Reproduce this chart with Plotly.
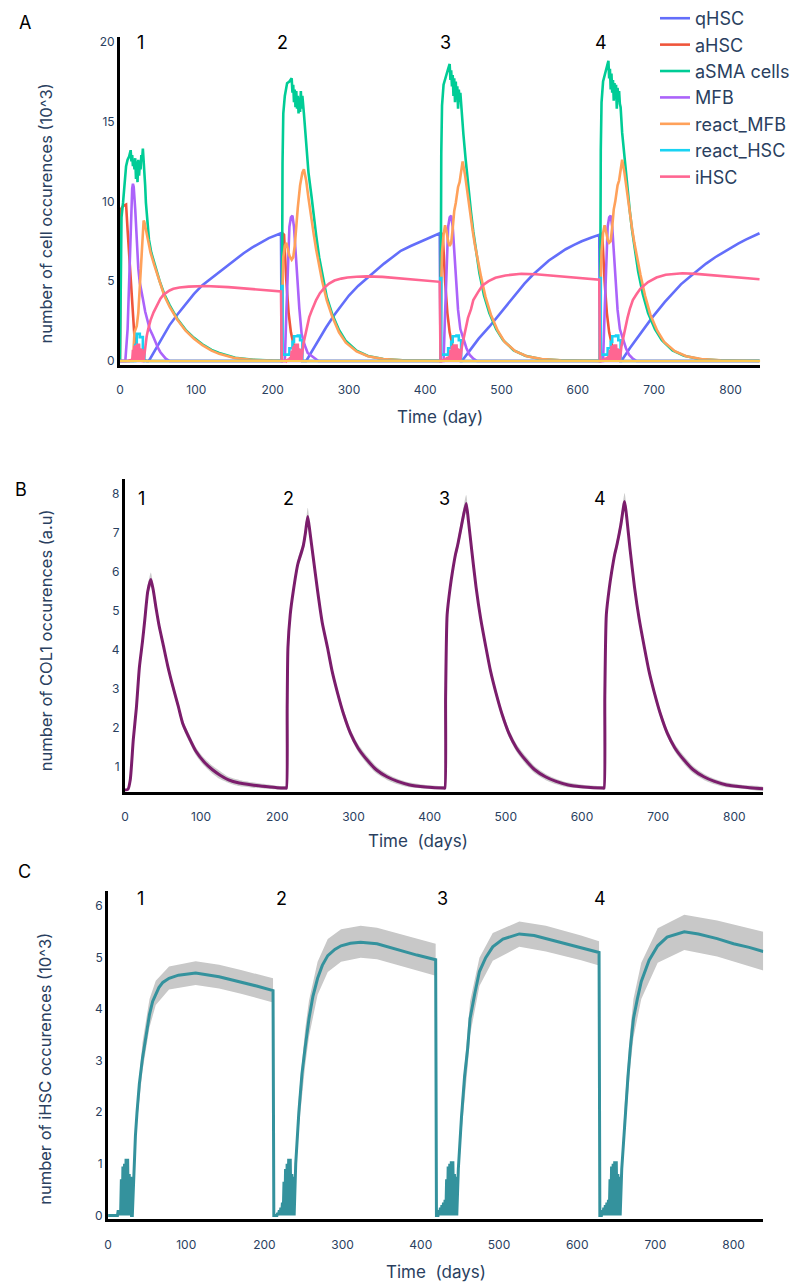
import plotly.graph_objects as go

W, H = 795, 1288

# ---------------- Panel A: cell populations (10^3) ----------------
qhsc_t = [0, 37, 39, 45, 52, 65, 75, 86, 97, 108, 120, 130, 140, 151, 162, 173, 184, 195, 211,
          212, 244, 252, 260, 270, 281, 290, 300, 312, 324, 335, 346, 357, 368, 381, 395, 407, 419,
          420, 448, 459, 470, 484, 497, 508, 520, 530, 541, 552, 562, 573, 584, 595, 605, 617, 628,
          629, 657, 668, 680, 697, 714, 725, 735, 746, 757, 768, 780, 790, 800, 810, 820, 829, 838]
qhsc_y = [0, 0, 0.1, 0.6, 1.2, 2.25, 2.9, 3.55, 4.2, 4.75, 5.2, 5.55, 5.95, 6.35, 6.75, 7.1, 7.42, 7.7, 8.0,
          0, 0, 0.65, 1.3, 2.1, 2.9, 3.5, 4.1, 4.7, 5.2, 5.65, 6.1, 6.5, 6.9, 7.2, 7.5, 7.75, 8.0,
          0, 0, 0.7, 1.4, 2.15, 2.9, 3.6, 4.3, 4.85, 5.4, 5.85, 6.3, 6.65, 7.0, 7.27, 7.5, 7.72, 7.9,
          0, 0, 0.8, 1.6, 2.7, 3.7, 4.25, 4.8, 5.25, 5.7, 6.1, 6.5, 6.8, 7.1, 7.35, 7.6, 7.8, 8.0]

ahsc_t = [0, 1, 4, 8, 10, 13, 15, 17, 19, 21, 25, 30, 35, 211,
          212, 213, 215, 218, 221, 224, 228, 233, 238, 419,
          420, 421, 423, 426, 429, 432, 436, 441, 446, 628,
          629, 630, 632, 635, 638, 641, 645, 650, 655, 838]
ahsc_y = [0, 9.5, 9.7, 9.8, 8.2, 6.0, 4.0, 2.4, 1.5, 1.0, 0.4, 0.1, 0, 0,
          0, 8.0, 7.9, 5.0, 3.0, 1.8, 0.9, 0.4, 0, 0,
          0, 8.0, 7.9, 5.0, 3.0, 1.8, 0.9, 0.4, 0, 0,
          0, 8.0, 7.9, 5.0, 3.0, 1.8, 0.9, 0.4, 0, 0]

asma_t = [0, 2, 4, 6, 8, 10, 12, 14, 15, 16, 17, 18, 19, 20, 21, 22, 23, 24, 25, 26, 27, 28, 29, 30, 31, 32, 33, 34,
          36, 38, 41, 45, 52, 58, 65, 75, 86, 97, 108, 120, 130, 151, 175, 200, 211,
          212, 213, 214, 216, 219, 222, 225, 226, 227, 228, 229, 230, 231, 232, 233, 234, 235, 236, 237, 238, 239,
          241, 244, 247, 251, 254, 257, 261, 265, 271, 278, 287, 296, 310, 325, 345, 370, 402, 419,
          420, 421, 422, 424, 427, 430, 432, 433, 434, 435, 436, 437, 438, 439, 440, 441, 442, 443, 444, 445, 446, 447,
          448, 450, 453, 456, 460, 463, 467, 471, 477, 484, 493, 502, 516, 531, 551, 576, 608, 628,
          629, 630, 631, 633, 636, 638, 640, 641, 642, 643, 644, 645, 646, 647, 648, 649, 650, 651, 652, 653, 654, 655,
          656, 658, 661, 664, 668, 671, 675, 679, 685, 692, 701, 710, 724, 739, 759, 784, 816, 838]
asma_y = [0, 9.0, 9.9, 11.3, 12.2, 12.6, 12.8, 13.2, 12.5, 12.9, 12.2, 12.6, 12.0, 12.7, 11.4, 12.5, 11.2, 12.6, 11.6, 12.3, 12.0, 12.9, 12.6, 13.3, 12.7, 12.0, 11.0, 9.9,
          8.6, 7.6, 6.8, 6.1, 5.0, 4.2, 3.5, 2.65, 1.95, 1.45, 1.05, 0.7, 0.5, 0.2, 0.08, 0.03, 0.02,
          0.02, 12.4, 15.5, 16.6, 17.4, 17.5, 17.7, 16.8, 17.3, 16.2, 17.0, 15.9, 16.9, 15.8, 16.6, 15.5, 16.5, 15.6, 16.9, 15.8, 16.6,
          15.5, 13.5, 11.8, 10.3, 9.0, 7.9, 6.5, 5.4, 4.0, 2.95, 1.95, 1.25, 0.65, 0.32, 0.13, 0.05, 0.02, 0.02,
          0.02, 13.0, 16.0, 17.3, 17.9, 18.3, 18.6, 17.6, 18.2, 17.2, 17.9, 16.6, 17.7, 16.2, 17.5, 16.4, 17.2, 15.8, 17.0, 16.3, 16.8, 16.0,
          15.8, 14.2, 12.6, 11.1, 9.3, 8.1, 6.7, 5.5, 4.1, 3.0, 2.0, 1.3, 0.67, 0.33, 0.13, 0.05, 0.02, 0.02,
          0.02, 13.2, 16.2, 17.5, 18.1, 18.4, 18.8, 17.7, 18.3, 17.0, 18.0, 16.8, 17.6, 16.3, 17.4, 16.5, 17.3, 15.8, 17.1, 16.4, 16.9, 16.1,
          15.9, 14.3, 12.7, 11.2, 9.4, 8.2, 6.8, 5.6, 4.2, 3.0, 2.0, 1.3, 0.67, 0.33, 0.13, 0.05, 0.02, 0.02]

mfb_t = [0, 7, 10, 12, 14, 16, 17, 18, 20, 22, 24, 26, 28, 30, 33, 36, 39, 43, 47, 50, 53, 56, 60, 65, 211,
         212, 216, 218, 220, 222, 224, 226, 228, 229, 231, 233, 235, 238, 242, 246, 251, 256, 260, 419,
         420, 424, 426, 428, 430, 432, 434, 436, 437, 439, 441, 443, 446, 450, 454, 458, 463, 468, 628,
         629, 633, 635, 637, 639, 641, 643, 645, 646, 648, 650, 652, 655, 659, 663, 667, 672, 677, 838]
mfb_y = [0, 0, 2.0, 5.5, 9.0, 10.8, 11.1, 10.9, 9.5, 7.5, 5.8, 4.9, 4.3, 3.9, 3.1, 2.5, 2.0, 1.6, 1.1, 0.8, 0.55, 0.35, 0.15, 0, 0,
         0, 0, 3.0, 6.5, 8.4, 9.0, 9.1, 8.4, 7.6, 6.2, 4.4, 3.3, 1.7, 1.0, 0.5, 0.3, 0.1, 0, 0,
         0, 0, 3.0, 6.5, 8.4, 9.0, 9.1, 8.4, 7.6, 6.0, 4.4, 3.2, 2.0, 1.4, 0.8, 0.4, 0.15, 0, 0,
         0, 0, 3.0, 6.5, 8.4, 9.0, 9.1, 8.4, 7.6, 6.0, 4.4, 3.2, 2.0, 1.4, 0.8, 0.4, 0.15, 0, 0]

rmfb_t = [0, 17, 19, 22, 24, 26, 28, 30, 31, 32, 34, 37, 40, 45, 52, 58, 65, 75, 86, 97, 108, 120, 130, 151, 175, 211,
          212, 213, 214, 216, 218, 220, 222, 225, 227, 229, 231, 233, 236, 239, 241, 244, 247, 250, 254, 257, 261, 265,
          271, 278, 287, 296, 310, 325, 345, 370, 419,
          420, 421, 422, 424, 426, 428, 430, 432, 434, 436, 438, 440, 443, 445, 447, 449, 452, 455, 458, 462, 465, 469,
          473, 479, 486, 495, 504, 518, 533, 553, 578, 628,
          629, 630, 631, 633, 635, 637, 639, 641, 643, 645, 647, 649, 652, 654, 656, 658, 661, 664, 667, 671, 674, 678,
          682, 688, 695, 704, 713, 727, 742, 762, 787, 838]
rmfb_y = [0, 0, 1.8, 2.2, 3.0, 4.8, 6.8, 8.3, 8.8, 8.7, 8.2, 7.5, 6.8, 6.0, 4.9, 4.1, 3.4, 2.6, 1.9, 1.4, 1.0, 0.65, 0.45, 0.18, 0.07, 0.02,
          0.02, 4.5, 6.5, 7.2, 7.4, 7.0, 6.6, 6.35, 6.5, 7.2, 8.5, 9.6, 11.0, 11.8, 12.0, 11.3, 10.2, 9.1, 7.9, 7.0, 5.9, 5.0,
          3.8, 2.8, 1.8, 1.15, 0.6, 0.3, 0.12, 0.05, 0.01,
          0.01, 5.0, 6.8, 7.9, 8.5, 8.1, 7.5, 7.2, 7.4, 8.3, 9.4, 9.9, 10.9, 11.2, 12.0, 12.5, 11.7, 10.6, 9.5, 8.2, 7.3, 6.2,
          5.3, 4.0, 2.9, 1.9, 1.2, 0.62, 0.3, 0.12, 0.05, 0.01,
          0.01, 5.0, 6.9, 8.0, 8.5, 8.1, 7.6, 7.4, 7.5, 8.4, 9.5, 10.0, 11.0, 11.3, 12.1, 12.6, 11.8, 10.7, 9.6, 8.3, 7.4, 6.3,
          5.4, 4.1, 2.9, 1.9, 1.2, 0.62, 0.3, 0.12, 0.05, 0.01]

rhsc_t = [0, 18, 20, 22, 26, 30, 32,
          212, 213, 222, 226, 228, 233, 236, 239,
          420, 421, 430, 434, 436, 441, 444, 447,
          629, 630, 639, 643, 645, 650, 653, 656, 838]
rhsc_y = [0, 0, 1.0, 1.7, 1.5, 0.6, 0,
          4.7, 0.4, 0.8, 1.2, 1.55, 1.6, 1.3, 0,
          5.2, 0.4, 0.8, 1.2, 1.55, 1.6, 1.3, 0,
          5.2, 0.4, 0.8, 1.2, 1.55, 1.6, 1.3, 0, 0]

# iHSC mean (10^3) -- shown in panel A (pink) and panel C (teal)
ihsc_t = [0, 12, 13, 14, 15, 16, 17, 18, 19, 20, 21, 22, 23, 24, 25, 26, 27, 28, 29, 30, 31,
          33, 35, 37, 40, 44, 48, 53, 57, 61, 65, 70, 78, 90, 112, 142, 170, 190, 211,
          212, 216, 217, 218, 219, 220, 221, 222, 223, 224, 225, 226, 227, 228, 229, 230, 231, 232, 233, 234, 235, 236, 237, 238,
          240, 244, 248, 252, 257, 262, 268, 274, 281, 290, 298, 310, 323, 344, 360, 374, 395, 419,
          420, 422, 423, 424, 425, 426, 427, 428, 429, 430, 431, 432, 433, 434, 435, 436, 437, 438, 439, 440, 441, 442, 443, 444, 445, 446,
          448, 452, 456, 460, 463, 469, 475, 483, 492, 505, 526, 545, 560, 580, 605, 628,
          629, 631, 632, 633, 634, 635, 636, 637, 638, 639, 640, 641, 642, 643, 644, 645, 646, 647, 648, 649, 650, 651, 652, 653, 654, 655,
          657, 661, 665, 668, 672, 677, 682, 692, 703, 715, 737, 755, 779, 800, 820, 838]
ihsc_y = [0, 0, 0.1, 0, 0.1, 0, 0.7, 0, 0.95, 0, 1.0, 0, 1.1, 0, 1.1, 0, 0.8, 0, 0.75, 0, 0,
          1.0, 1.55, 2.0, 2.55, 3.05, 3.45, 3.9, 4.15, 4.3, 4.42, 4.52, 4.6, 4.66, 4.7, 4.63, 4.53, 4.45, 4.36,
          0, 0, 0.05, 0, 0.1, 0, 0.15, 0, 0.25, 0, 0.65, 0, 0.9, 0, 1.0, 0, 1.1, 0, 1.1, 0, 0.8, 0, 0.75, 0,
          1.0, 2.0, 2.75, 3.25, 3.82, 4.25, 4.6, 4.85, 5.04, 5.16, 5.23, 5.28, 5.3, 5.27, 5.2, 5.14, 5.05, 4.96,
          0, 0, 0.1, 0, 0.15, 0, 0.2, 0, 0.25, 0, 0.3, 0, 0.7, 0, 0.95, 0, 1.0, 0, 1.05, 0, 1.05, 0, 0.8, 0, 0.75, 0,
          0.9, 1.9, 2.7, 3.25, 3.82, 4.3, 4.73, 5.0, 5.21, 5.36, 5.46, 5.43, 5.37, 5.28, 5.19, 5.1,
          0, 0, 0.1, 0, 0.15, 0, 0.2, 0, 0.25, 0, 0.3, 0, 0.7, 0, 0.95, 0, 1.0, 0, 1.05, 0, 1.05, 0, 0.8, 0, 0.75, 0,
          0.9, 1.9, 2.7, 3.25, 3.82, 4.2, 4.54, 4.95, 5.23, 5.4, 5.5, 5.46, 5.37, 5.27, 5.2, 5.12]

# iHSC spread band, one list per cycle
ihsc_band_t = [[33, 37, 44, 53, 61, 78, 112, 142, 170, 211],
               [240, 244, 252, 257, 268, 281, 298, 323, 344, 374, 419],
               [448, 452, 460, 463, 475, 492, 526, 560, 605, 628],
               [657, 661, 668, 672, 682, 703, 737, 779, 838]]
ihsc_band_hi = [[1.1, 2.2, 3.35, 4.2, 4.55, 4.83, 4.93, 4.86, 4.76, 4.6],
                [1.2, 2.3, 3.6, 4.17, 4.92, 5.36, 5.55, 5.62, 5.58, 5.45, 5.27],
                [1.1, 2.2, 3.6, 4.15, 5.0, 5.48, 5.7, 5.62, 5.43, 5.32],
                [1.1, 2.2, 3.6, 4.2, 4.9, 5.57, 5.83, 5.72, 5.5]]
ihsc_band_lo = [[0.9, 1.8, 2.8, 3.65, 4.08, 4.38, 4.47, 4.4, 4.3, 4.13],
                [0.8, 1.7, 2.9, 3.47, 4.28, 4.72, 4.92, 5.0, 4.97, 4.84, 4.65],
                [0.7, 1.6, 2.9, 3.5, 4.45, 4.94, 5.21, 5.12, 4.95, 4.85],
                [0.7, 1.6, 2.9, 3.45, 4.2, 4.9, 5.15, 5.02, 4.75]]

# ---------------- Panel B: COL1 (a.u) ----------------
col1_t = [0, 4, 7, 11, 15, 19, 23, 26, 30, 34, 37, 41, 45, 50, 56, 63, 70, 76, 84, 93, 104, 115, 125, 136, 150, 167, 185, 200, 211,
          212, 213, 214, 217, 221, 227, 234, 237, 240, 243, 247, 253, 259, 266, 272, 279, 287, 296, 306, 318, 330, 344, 358, 374, 395, 419,
          420, 421, 423, 427, 430, 434, 437, 442, 448, 451, 455, 461, 467, 474, 480, 487, 495, 504, 514, 526, 538, 552, 566, 582, 603, 628,
          629, 630, 632, 636, 639, 643, 646, 651, 656, 659, 663, 669, 675, 682, 688, 695, 703, 712, 722, 734, 746, 760, 774, 790, 811, 838]
col1_y = [0.4, 0.42, 0.66, 1.7, 2.5, 3.55, 4.2, 4.75, 5.5, 5.8, 5.55, 5.05, 4.6, 4.15, 3.6, 3.05, 2.55, 2.1, 1.75, 1.4, 1.12, 0.92, 0.78, 0.66, 0.58, 0.53, 0.49, 0.46, 0.45,
          0.45, 2.5, 4.05, 4.9, 5.5, 6.2, 6.65, 7.0, 7.42, 7.0, 6.4, 5.5, 4.7, 4.05, 3.45, 2.9, 2.35, 1.86, 1.48, 1.17, 0.92, 0.74, 0.62, 0.53, 0.48, 0.45,
          0.45, 2.8, 4.9, 5.6, 6.0, 6.45, 6.7, 7.2, 7.75, 7.3, 6.6, 5.6, 4.8, 4.05, 3.45, 2.9, 2.35, 1.86, 1.48, 1.17, 0.92, 0.74, 0.62, 0.53, 0.48, 0.45,
          0.45, 2.8, 4.9, 5.6, 6.0, 6.45, 6.7, 7.2, 7.8, 7.35, 6.6, 5.6, 4.8, 4.05, 3.45, 2.9, 2.35, 1.86, 1.48, 1.17, 0.92, 0.74, 0.62, 0.53, 0.48, 0.43]
col1_sd = [0.02, 0.02, 0.05, 0.08, 0.1, 0.1, 0.1, 0.12, 0.15, 0.18, 0.12, 0.1, 0.1, 0.1, 0.1, 0.1, 0.1, 0.1, 0.1, 0.1, 0.1, 0.1, 0.1, 0.08, 0.08, 0.07, 0.06, 0.05, 0.05,
           0.05, 0.1, 0.12, 0.12, 0.12, 0.12, 0.15, 0.18, 0.22, 0.15, 0.12, 0.1, 0.1, 0.1, 0.1, 0.1, 0.1, 0.1, 0.1, 0.1, 0.09, 0.08, 0.07, 0.06, 0.05, 0.05,
           0.05, 0.1, 0.12, 0.12, 0.12, 0.12, 0.15, 0.18, 0.22, 0.15, 0.12, 0.1, 0.1, 0.1, 0.1, 0.1, 0.1, 0.1, 0.1, 0.1, 0.09, 0.08, 0.07, 0.06, 0.05, 0.05,
           0.05, 0.1, 0.12, 0.12, 0.12, 0.12, 0.15, 0.18, 0.22, 0.15, 0.12, 0.1, 0.1, 0.1, 0.1, 0.1, 0.1, 0.1, 0.1, 0.1, 0.09, 0.08, 0.07, 0.06, 0.05, 0.05]

# ---------------- text ----------------
cycle_labels = ["1", "2", "3", "4"]
x_ticks = [0, 100, 200, 300, 400, 500, 600, 700, 800]

# ---------------- figure ----------------
def fx(p):
    return p / W

def fy(p):
    return 1 - p / H

fig = go.Figure()

series_a = [
    ("qHSC", qhsc_t, qhsc_y, "#636efa", "linear"),
    ("aHSC", ahsc_t, ahsc_y, "#EF553B", "linear"),
    ("aSMA cells", asma_t, asma_y, "#00cc96", "linear"),
    ("MFB", mfb_t, mfb_y, "#ab63fa", "linear"),
    ("react_MFB", rmfb_t, rmfb_y, "#FFA15A", "linear"),
    ("react_HSC", rhsc_t, rhsc_y, "#19d3f3", "hv"),
    ("iHSC", ihsc_t, ihsc_y, "#FF6692", "linear"),
]
for name, t, y, c, shape in series_a:
    assert len(t) == len(y), name
    fig.add_trace(go.Scatter(x=t, y=y, name=name, mode="lines",
                             line=dict(color=c, width=2.6, shape=shape),
                             xaxis="x", yaxis="y"))

# Panel B band + line
assert len(col1_t) == len(col1_y) == len(col1_sd)
col1_hi = [m + s for m, s in zip(col1_y, col1_sd)]
col1_lo = [m - s for m, s in zip(col1_y, col1_sd)]
fig.add_trace(go.Scatter(x=col1_t + col1_t[::-1], y=col1_hi + col1_lo[::-1], fill="toself",
                         fillcolor="rgba(170,170,170,0.6)", line=dict(width=0, shape="spline", smoothing=0.6),
                         mode="lines", showlegend=False, hoverinfo="skip",
                         xaxis="x2", yaxis="y2"))
fig.add_trace(go.Scatter(x=col1_t, y=col1_y, mode="lines", showlegend=False,
                         line=dict(color="#7b1d6c", width=3, shape="spline", smoothing=0.6),
                         xaxis="x2", yaxis="y2"))

# Panel C band + line
assert len(ihsc_t) == len(ihsc_y)
bx, by = [], []
for t, hi, lo in zip(ihsc_band_t, ihsc_band_hi, ihsc_band_lo):
    bx += t + t[::-1] + [None]
    by += hi + lo[::-1] + [None]
fig.add_trace(go.Scatter(x=bx, y=by, fill="toself", fillcolor="rgb(200,200,200)",
                         line=dict(width=0), mode="lines", showlegend=False,
                         hoverinfo="skip", xaxis="x3", yaxis="y3"))
fig.add_trace(go.Scatter(x=ihsc_t, y=ihsc_y, mode="lines", showlegend=False,
                         line=dict(color="#34929d", width=3), xaxis="x3", yaxis="y3"))

axis_common = dict(showgrid=False, zeroline=False, showline=True, linecolor="black",
                   linewidth=3, ticks="", tickfont=dict(size=12, color="#2a3f5f"))

fig.update_layout(
    width=W, height=H, margin=dict(l=0, r=0, t=0, b=0),
    paper_bgcolor="white", plot_bgcolor="white",
    font=dict(family="Inter, sans-serif", color="#2a3f5f"),
    xaxis=dict(domain=[fx(117), fx(763)], range=[0, 839], tickvals=x_ticks,
               anchor="y", ticklabelstandoff=12, **axis_common),
    yaxis=dict(domain=[fy(363), fy(33)], range=[-0.25, 20.3], tickvals=[0, 5, 10, 15, 20],
               anchor="x", **axis_common),
    xaxis2=dict(domain=[fx(122), fx(766)], range=[0, 838], tickvals=x_ticks,
                anchor="y2", ticklabelstandoff=12, **axis_common),
    yaxis2=dict(domain=[fy(792), fy(478)], range=[0.357, 8.37], tickvals=[1, 2, 3, 4, 5, 6, 7, 8],
                anchor="x2", **axis_common),
    xaxis3=dict(domain=[fx(105), fx(766)], range=[0, 838], tickvals=x_ticks,
                anchor="y3", ticklabelstandoff=12, **axis_common),
    yaxis3=dict(domain=[fy(1222), fy(892)], range=[-0.077, 6.29], tickvals=[0, 1, 2, 3, 4, 5, 6],
                anchor="x3", **axis_common),
    legend=dict(x=fx(657), y=1 + 4 / H, xanchor="left", yanchor="top",
                bgcolor="rgba(255,255,255,0)", font=dict(size=18, color="#2a3f5f"),
                tracegroupgap=0),
    shapes=[dict(type="line", xref="x", yref="y", x0=0, x1=839, y0=0, y1=0,
                 line=dict(color="#FECB52", width=2), layer="above")],
)

ann = []
def add_text(text, x, y, size, color="black", angle=0):
    ann.append(dict(text=text, x=fx(x), y=fy(y), xref="paper", yref="paper",
                    showarrow=False, xanchor="center", yanchor="middle",
                    textangle=angle, font=dict(size=size, color=color)))

# panel letters
add_text("A", 21, 19, 18)
add_text("B", 17, 488, 18)
add_text("C", 21, 872, 18)
# cycle numbers
for lab, x in zip(cycle_labels, [138, 281, 445, 602]):
    add_text(lab, x, 39, 18)
for lab, x in zip(cycle_labels, [139, 287, 444, 601]):
    add_text(lab, x, 497, 18)
for lab, x in zip(cycle_labels, [138, 280, 442, 601]):
    add_text(lab, x, 899, 18)
# axis titles
add_text("Time (day)", 440, 415, 17, "#2a3f5f")
add_text("Time\u00a0 (days)", 418, 842, 17, "#2a3f5f")
add_text("Time\u00a0 (days)", 436, 1275, 17, "#2a3f5f")
add_text("number of cell occurences (10^3)", 42, 211, 16.5, "#2a3f5f", -90)
add_text("number of COL1 occurences (a.u)", 42, 640, 16.5, "#2a3f5f", -90)
add_text("number of iHSC occurences (10^3)", 42, 1071, 16.5, "#2a3f5f", -90)
fig.update_layout(annotations=ann)

fig.write_html("out.html", config={"displayModeBar": False},
               post_script="document.body.style.margin='0px';document.body.style.overflow='hidden';")
